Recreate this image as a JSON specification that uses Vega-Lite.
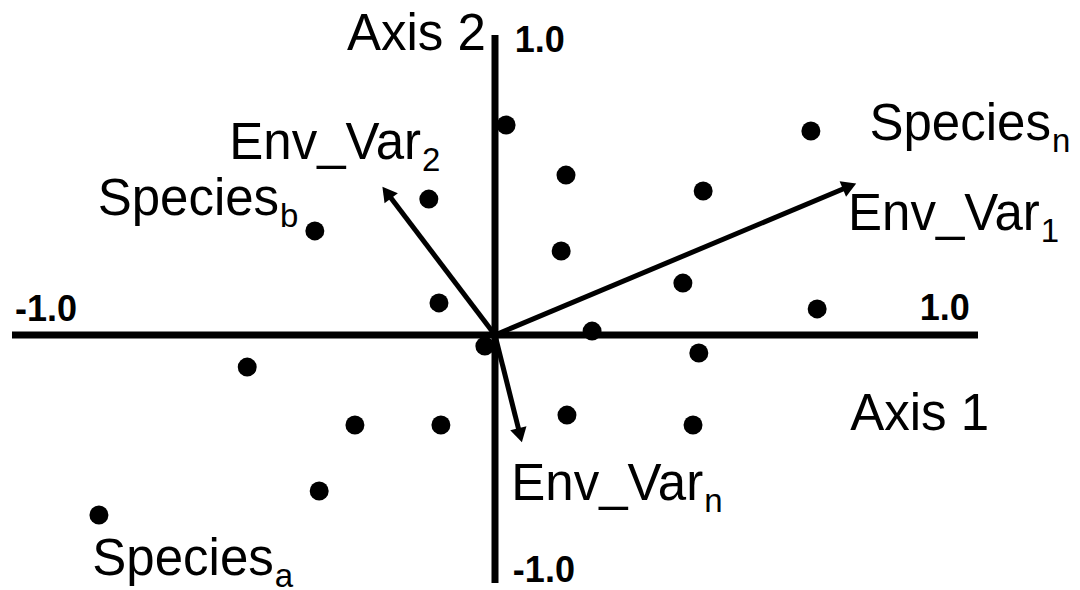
{
  "$schema": "https://vega.github.io/schema/vega-lite/v6.json",
  "width": 1080,
  "height": 590,
  "autosize": "none",
  "padding": 0,
  "background": "white",
  "config": {"view": {"stroke": null}},
  "datasets": {
    "species": [
      {"x": 0.023, "y": 0.700},
      {"x": 0.654, "y": 0.680},
      {"x": 0.147, "y": 0.533},
      {"x": 0.431, "y": 0.480},
      {"x": -0.137, "y": 0.453},
      {"x": -0.373, "y": 0.347},
      {"x": 0.137, "y": 0.280},
      {"x": 0.389, "y": 0.173},
      {"x": -0.116, "y": 0.107},
      {"x": 0.667, "y": 0.087},
      {"x": 0.201, "y": 0.013},
      {"x": -0.021, "y": -0.037},
      {"x": -0.513, "y": -0.107},
      {"x": 0.422, "y": -0.060},
      {"x": -0.290, "y": -0.300},
      {"x": -0.112, "y": -0.300},
      {"x": 0.149, "y": -0.267},
      {"x": 0.410, "y": -0.300},
      {"x": -0.364, "y": -0.520},
      {"x": -0.820, "y": -0.600}
    ],
    "axes": [
      {"x": -1.0, "y": 0, "x2": 1.0, "y2": 0},
      {"x": 0, "y": -0.827, "x2": 0, "y2": 1.0}
    ],
    "vectors": [
      {"name": "Env_Var1", "x0": 0, "y0": 0, "x": 0.734, "y": 0.496},
      {"name": "Env_Var2", "x0": 0, "y0": 0, "x": -0.224, "y": 0.475},
      {"name": "Env_Varn", "x0": 0, "y0": 0, "x": 0.052, "y": -0.334}
    ],
    "labels": [
      {"kind": "label", "text": "Axis 2", "sub": "", "x": -0.019, "y": 0.950},
      {"kind": "label", "text": "Axis 1", "sub": "", "x": 1.023, "y": -0.317},
      {"kind": "label", "text": "Env_Var", "sub": "2", "x": -0.153, "y": 0.587},
      {"kind": "label", "text": "Species", "sub": "b", "x": -0.447, "y": 0.400},
      {"kind": "label", "text": "Species", "sub": "n", "x": 1.151, "y": 0.650},
      {"kind": "label", "text": "Env_Var", "sub": "1", "x": 1.128, "y": 0.350},
      {"kind": "label", "text": "Species", "sub": "a", "x": -0.458, "y": -0.800},
      {"kind": "label", "text": "Env_Var", "sub": "n", "x": 0.431, "y": -0.550},
      {"kind": "tickL", "text": "1.0", "sub": "", "x": 0.041, "y": 0.943},
      {"kind": "tickL", "text": "-1.0", "sub": "", "x": -0.994, "y": 0.047},
      {"kind": "tickR", "text": "1.0", "sub": "", "x": 0.983, "y": 0.050},
      {"kind": "tickL", "text": "-1.0", "sub": "", "x": 0.037, "y": -0.823}
    ]
  },
  "layer": [
    {
      "data": {"name": "species"},
      "mark": {"type": "point", "shape": "circle", "filled": true, "color": "black", "opacity": 1, "size": 360},
      "encoding": {
        "x": {"field": "x", "type": "quantitative", "scale": {"domain": [-1.02484, 1.21118], "nice": false, "zero": false}, "axis": null},
        "y": {"field": "y", "type": "quantitative", "scale": {"domain": [-0.85, 1.116667], "nice": false, "zero": false}, "axis": null}
      }
    },
    {
      "data": {"name": "axes"},
      "mark": {"type": "rule", "color": "black", "strokeWidth": 7, "strokeCap": "butt"},
      "encoding": {
        "x": {"field": "x", "type": "quantitative"},
        "y": {"field": "y", "type": "quantitative"},
        "x2": {"field": "x2"},
        "y2": {"field": "y2"}
      }
    },
    {
      "data": {"name": "vectors"},
      "mark": {"type": "rule", "color": "black", "strokeWidth": 5, "strokeCap": "butt"},
      "encoding": {
        "x": {"field": "x0", "type": "quantitative"},
        "y": {"field": "y0", "type": "quantitative"},
        "x2": {"field": "x"},
        "y2": {"field": "y"}
      }
    },
    {
      "data": {"name": "vectors"},
      "transform": [
        {"calculate": "atan2(datum.x * 483, datum.y * 300) * 180 / PI", "as": "angle"}
      ],
      "mark": {"type": "point", "shape": "triangle-up", "filled": true, "color": "black", "opacity": 1, "size": 280},
      "encoding": {
        "x": {"field": "x", "type": "quantitative"},
        "y": {"field": "y", "type": "quantitative"},
        "angle": {"field": "angle", "type": "quantitative", "scale": null}
      }
    },
    {
      "data": {"name": "labels"},
      "transform": [{"filter": "datum.kind == 'label'"}],
      "mark": {"type": "text", "align": "right", "baseline": "alphabetic", "font": "Liberation Sans", "fontSize": 51, "color": "black"},
      "encoding": {
        "x": {"field": "x", "type": "quantitative"},
        "y": {"field": "y", "type": "quantitative"},
        "text": {"field": "text"}
      }
    },
    {
      "data": {"name": "labels"},
      "transform": [{"filter": "datum.kind == 'label'"}],
      "mark": {"type": "text", "align": "left", "baseline": "alphabetic", "font": "Liberation Sans", "fontSize": 33, "dx": 1, "dy": 12, "color": "black"},
      "encoding": {
        "x": {"field": "x", "type": "quantitative"},
        "y": {"field": "y", "type": "quantitative"},
        "text": {"field": "sub"}
      }
    },
    {
      "data": {"name": "labels"},
      "transform": [{"filter": "datum.kind == 'tickL'"}],
      "mark": {"type": "text", "align": "left", "baseline": "alphabetic", "font": "Liberation Sans", "fontSize": 36, "fontWeight": "bold", "color": "black"},
      "encoding": {
        "x": {"field": "x", "type": "quantitative"},
        "y": {"field": "y", "type": "quantitative"},
        "text": {"field": "text"}
      }
    },
    {
      "data": {"name": "labels"},
      "transform": [{"filter": "datum.kind == 'tickR'"}],
      "mark": {"type": "text", "align": "right", "baseline": "alphabetic", "font": "Liberation Sans", "fontSize": 36, "fontWeight": "bold", "color": "black"},
      "encoding": {
        "x": {"field": "x", "type": "quantitative"},
        "y": {"field": "y", "type": "quantitative"},
        "text": {"field": "text"}
      }
    }
  ]
}
